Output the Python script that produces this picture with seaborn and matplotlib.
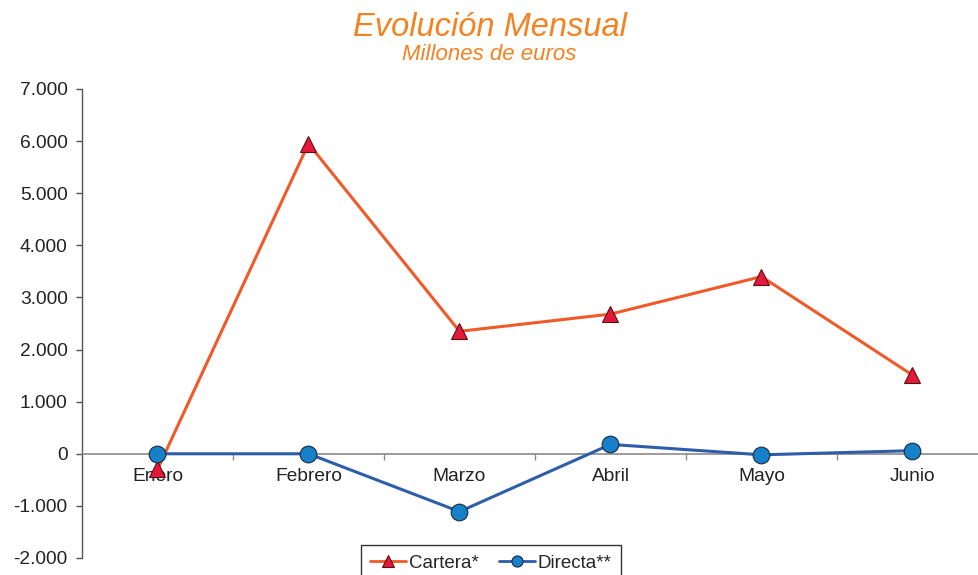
import pandas as pd
import numpy as np
import matplotlib
matplotlib.use('Agg')
import matplotlib.pyplot as plt
import seaborn as sns
from matplotlib.ticker import FuncFormatter, FixedLocator
from matplotlib.lines import Line2D

meses = ['Enero', 'Febrero', 'Marzo', 'Abril', 'Mayo', 'Junio']
cartera = [-300, 5950, 2350, 2680, 3400, 1510]
directa = [0, 0, -1110, 180, -20, 60]

sns.set_style('white')
plt.rcParams['font.family'] = ['Liberation Sans', 'DejaVu Sans']

df = pd.DataFrame({'Mes': meses, 'Cartera*': cartera, 'Directa**': directa})

fig = plt.figure(figsize=(9.79, 5.75), dpi=100)
ax = fig.add_axes([82 / 979, 1 - 558 / 575, 906 / 979, (558 - 89) / 575])

naranja = '#F05A28'
azul = '#2E5DAA'

sns.lineplot(data=df, x='Mes', y='Cartera*', ax=ax, color=naranja, lw=2.2,
             marker='^', markersize=12, markerfacecolor='#E3183A',
             markeredgecolor='#5a1010', markeredgewidth=0.8, zorder=3)
sns.lineplot(data=df, x='Mes', y='Directa**', ax=ax, color=azul, lw=2.2,
             marker='o', markersize=12, markerfacecolor='#1680C8',
             markeredgecolor='#1a2a40', markeredgewidth=0.8, zorder=4)

ax.set_xlim(-0.5, 5.5)
ax.set_ylim(-2000, 7000)
ax.set_yticks(np.arange(-2000, 7001, 1000))
ax.yaxis.set_major_formatter(FuncFormatter(lambda v, p: f"{int(v):,}".replace(',', '.')))
ax.set_xlabel('')
ax.set_ylabel('')

for s in ['top', 'right']:
    ax.spines[s].set_visible(False)
ax.spines['bottom'].set_position(('data', 0))
ax.spines['bottom'].set_color('#8a8a8a')
ax.spines['bottom'].set_linewidth(1.2)
ax.spines['left'].set_color('#555555')
ax.spines['left'].set_linewidth(1.0)

ax.tick_params(axis='y', which='major', direction='out', length=4.3, width=1,
               color='#555555', labelsize=13.8, labelcolor='#222222', pad=6, left=True)
ax.tick_params(axis='x', which='major', length=0, labelsize=13.8,
               labelcolor='#222222', pad=10)
ax.xaxis.set_minor_locator(FixedLocator([0.5, 1.5, 2.5, 3.5, 4.5]))
ax.tick_params(axis='x', which='minor', direction='out', length=4, width=1,
               color='#8a8a8a', bottom=True)
ax.grid(False)

handles = [
    Line2D([], [], color=naranja, lw=2, marker='^', markersize=8,
           markerfacecolor='#E3183A', markeredgecolor='#5a1010', markeredgewidth=0.8),
    Line2D([], [], color=azul, lw=2, marker='o', markersize=8,
           markerfacecolor='#1680C8', markeredgecolor='#1a2a40', markeredgewidth=0.8),
]
leg = fig.legend(handles, ['Cartera*', 'Directa**'], loc='upper center',
                 bbox_to_anchor=(491 / 979, 1 - 545 / 575), ncol=2, frameon=True,
                 fancybox=False, edgecolor='black', fontsize=13.5, handlelength=1.9,
                 handletextpad=0.15, columnspacing=1.1, borderpad=0.5,
                 borderaxespad=0)
leg.get_frame().set_linewidth(1.0)

fig.text(0.5, 1 - 28 / 575, 'Evolución Mensual', ha='center', va='center',
         color='#F5821F', fontsize=23.5, style='italic')
fig.text(0.5, 1 - 54 / 575, 'Millones de euros', ha='center', va='center',
         color='#F5821F', fontsize=16, style='italic')

fig.savefig('out.png', dpi=100)
